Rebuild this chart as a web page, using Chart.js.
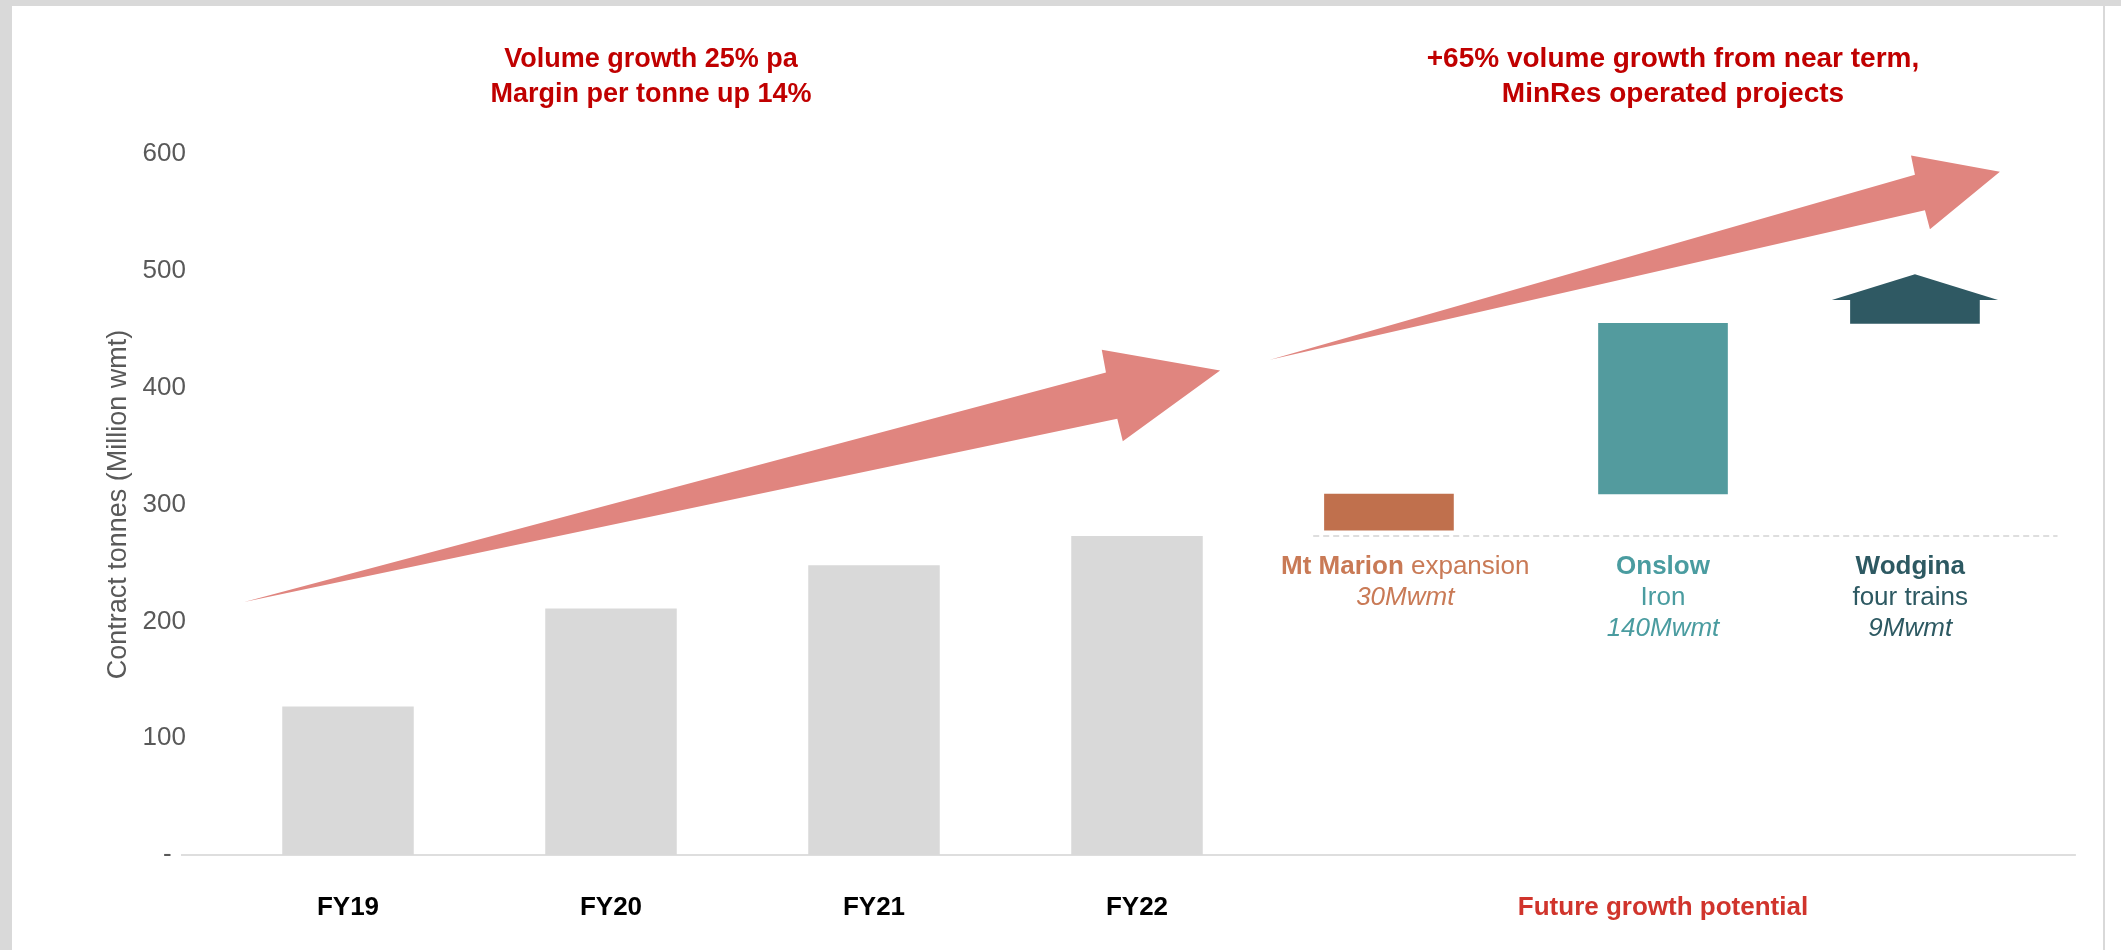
<!DOCTYPE html>
<html>
<head>
<meta charset="utf-8">
<script src="https://cdn.jsdelivr.net/npm/chart.js@4.4.0/dist/chart.umd.min.js"></script>
<style>
  html, body { margin: 0; padding: 0; background: #fff; }
  #wrap { position: relative; width: 2121px; height: 950px; overflow: hidden; }
  .strip { position: absolute; background: #d9d9d9; }
</style>
</head>
<body>
<div id="wrap">
  <canvas id="myChart" width="2121" height="950"></canvas>
  <div class="strip" style="left:0;top:0;width:2121px;height:6px"></div>
  <div class="strip" style="left:0;top:0;width:12px;height:950px"></div>
  <div class="strip" style="left:2103px;top:0;width:2px;height:950px"></div>
</div>
<script>
const NARROW = "'Liberation Sans Narrow', 'Arial Narrow', 'Liberation Sans', sans-serif";
const REGULAR = "'Liberation Sans', Arial, sans-serif";

// categories and x tick labels
const categories = ['FY19', 'FY20', 'FY21', 'FY22', 'Mt Marion', 'Onslow', 'Wodgina'];
const tickLabels = ['FY19', 'FY20', 'FY21', 'FY22', '', 'Future growth potential', ''];

// contract tonnes (Million wmt)
const historic = [127, 211, 248, 273, null, null, null];

// near term projects: position along the category axis, floating bar low/high
const projects = ['Mt Marion', 'Onslow', 'Wodgina'];
const projectPos = [3.958, 5.0, 5.958];
const projectLow = [278, 309, 455];
const projectHigh = [309, 455, 475];
const projectColors = ['#c0704d', '#539b9e', '#2f5963'];

// wodgina arrow head tip, dashed reference level
const wodginaTip = 497;
const dashedLevel = 273;
const dashedFrom = 3.67, dashedTo = 6.5;
const baselineFrom = -0.635, baselineTo = 6.57;

// growth arrows as [category position, value]
const arrow1 = [[-0.395, 216.6], [2.882, 412.9], [2.866, 432.4], [3.316, 414.6], [2.946, 354.2], [2.925, 373.3]];
const arrow2 = [[3.506, 423.8], [5.958, 582.2], [5.943, 598.8], [6.281, 584.8], [6.015, 535.5], [5.996, 551.8]];

const notePos = [4.02, 5.0, 5.94];
const notes = [
  { color: '#c97a56', lines: [[['Mt Marion ', 'bold'], ['expansion', '']], [['30Mwmt', 'italic']]] },
  { color: '#4a9ca0', lines: [[['Onslow', 'bold']], [['Iron', '']], [['140Mwmt', 'italic']]] },
  { color: '#2d5962', lines: [[['Wodgina', 'bold']], [['four trains', '']], [['9Mwmt', 'italic']]] }
];

const extras = {
  id: 'extras',
  beforeDatasetsDraw(chart) {
    const ctx = chart.ctx, x = chart.scales.x, y = chart.scales.y;
    ctx.save();
    // baseline
    ctx.strokeStyle = '#dedede';
    ctx.lineWidth = 2;
    ctx.beginPath();
    ctx.moveTo(x.getPixelForValue(baselineFrom), y.getPixelForValue(0));
    ctx.lineTo(x.getPixelForValue(baselineTo), y.getPixelForValue(0));
    ctx.stroke();
    // dashed level
    ctx.setLineDash([6, 4]);
    ctx.beginPath();
    ctx.moveTo(x.getPixelForValue(dashedFrom), y.getPixelForValue(dashedLevel));
    ctx.lineTo(x.getPixelForValue(dashedTo), y.getPixelForValue(dashedLevel));
    ctx.stroke();
    ctx.restore();
  },
  afterDatasetsDraw(chart) {
    const ctx = chart.ctx, x = chart.scales.x, y = chart.scales.y;
    ctx.save();
    // growth arrows
    ctx.fillStyle = '#e0857f';
    [arrow1, arrow2].forEach(pts => {
      ctx.beginPath();
      pts.forEach((p, i) => {
        const px = x.getPixelForValue(p[0]), py = y.getPixelForValue(p[1]);
        if (i === 0) ctx.moveTo(px, py); else ctx.lineTo(px, py);
      });
      ctx.closePath();
      ctx.fill();
    });
    // wodgina arrow head
    const bar = chart.getDatasetMeta(1).data[2];
    const half = x.getPixelForValue(0.316) - x.getPixelForValue(0);
    ctx.fillStyle = projectColors[2];
    ctx.beginPath();
    ctx.moveTo(bar.x - half, y.getPixelForValue(projectHigh[2]));
    ctx.lineTo(bar.x, y.getPixelForValue(wodginaTip));
    ctx.lineTo(bar.x + half, y.getPixelForValue(projectHigh[2]));
    ctx.closePath();
    ctx.fill();

    // project notes
    ctx.textBaseline = 'middle';
    const top = y.getPixelForValue(dashedLevel) + 31;
    notes.forEach((n, ni) => {
      const cx = x.getPixelForValue(notePos[ni]);
      ctx.fillStyle = n.color;
      n.lines.forEach((parts, li) => {
        const fonts = parts.map(p => (p[1] ? p[1] + ' ' : '') + '26px ' + NARROW);
        let w = 0;
        parts.forEach((p, k) => { ctx.font = fonts[k]; w += ctx.measureText(p[0]).width; });
        let sx = cx - w / 2;
        parts.forEach((p, k) => {
          ctx.font = fonts[k];
          ctx.textAlign = 'left';
          ctx.fillText(p[0], sx, top + li * 31);
          sx += ctx.measureText(p[0]).width;
        });
      });
    });

    // headline texts
    ctx.fillStyle = '#c00000';
    ctx.textAlign = 'center';
    ctx.font = 'bold 27px ' + NARROW;
    ctx.fillText('Volume growth 25% pa', 651, 60);
    ctx.fillText('Margin per tonne up 14%', 651, 95);
    ctx.font = 'bold 28px ' + NARROW;
    ctx.fillText('+65% volume growth from near term,', 1673, 59);
    ctx.fillText('MinRes operated projects', 1673, 94);
    ctx.restore();
  }
};

const ctx = document.getElementById('myChart');

new Chart(ctx, {
  type: 'bar',
  data: {
    labels: categories,
    datasets: [
      {
        label: 'Historic',
        data: historic,
        backgroundColor: '#d9d9d9',
        grouped: false,
        barPercentage: 0.5,
        categoryPercentage: 1.0
      },
      {
        label: 'Projects',
        xAxisID: 'xp',
        data: projects.map((p, i) => ({ x: projectPos[i], y: [projectLow[i], projectHigh[i]] })),
        backgroundColor: projectColors,
        grouped: false,
        barThickness: 129
      }
    ]
  },
  options: {
    responsive: false,
    animation: false,
    layout: { padding: { left: 0, right: 63.5, top: 154, bottom: 0 } },
    plugins: { legend: { display: false }, tooltip: { enabled: false } },
    scales: {
      x: {
        afterFit: s => { s.height = 95; },
        grid: { display: false, drawTicks: false },
        border: { display: false },
        ticks: {
          padding: 37,
          autoSkip: false,
          maxRotation: 0,
          callback: (v, i) => tickLabels[i],
          color: c => c.index === 5 ? '#d0342c' : '#000000',
          font: { family: NARROW, size: 26, weight: 'bold' }
        }
      },
      xp: {
        type: 'linear',
        min: -0.5,
        max: 6.5,
        offset: false,
        display: false
      },
      y: {
        min: 0,
        max: 600,
        afterFit: s => { s.width = 216.5; },
        grid: { display: false, drawTicks: false },
        border: { display: false },
        ticks: {
          stepSize: 100,
          padding: 30.5,
          color: '#595959',
          font: { family: REGULAR, size: 26 },
          callback: v => v === 0 ? '-  ' : v
        },
        title: {
          display: true,
          text: 'Contract tonnes (Million wmt)',
          color: '#595959',
          font: { family: NARROW, size: 27 },
          padding: { top: 102, bottom: 0 }
        }
      }
    }
  },
  plugins: [extras]
});
</script>
</body>
</html>
